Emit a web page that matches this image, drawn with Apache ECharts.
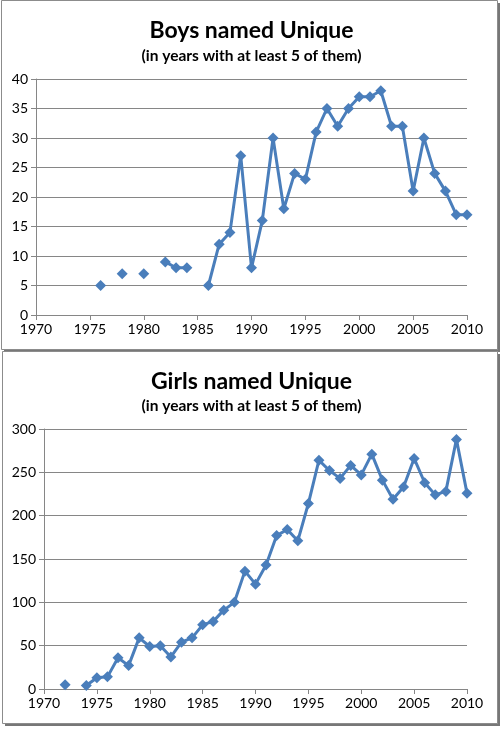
<!DOCTYPE html>
<html>
<head>
<meta charset="utf-8">
<script src="https://cdn.jsdelivr.net/npm/echarts@6/dist/echarts.min.js"></script>
<style>
  html, body { margin: 0; padding: 0; background: #fff; }
  #chart { width: 503px; height: 731px; }
</style>
</head>
<body>
<div id="chart"></div>
<script>
// boys: years with at least 5 of them (null = fewer than 5)
const boyYears = [1976, 1977, 1978, 1979, 1980, 1981, 1982, 1983, 1984, 1985, 1986, 1987, 1988, 1989, 1990,
  1991, 1992, 1993, 1994, 1995, 1996, 1997, 1998, 1999, 2000, 2001, 2002, 2003, 2004, 2005, 2006, 2007, 2008, 2009, 2010]
const boyCounts = [5, null, 7, null, 7, null, 9, 8, 8, null, 5, 12, 14, 27, 8,
  16, 30, 18, 24, 23, 31, 35, 32, 35, 37, 37, 38, 32, 32, 21, 30, 24, 21, 17, 17]

const girlYears = [1972, 1973, 1974, 1975, 1976, 1977, 1978, 1979, 1980, 1981, 1982, 1983, 1984, 1985, 1986,
  1987, 1988, 1989, 1990, 1991, 1992, 1993, 1994, 1995, 1996, 1997, 1998, 1999, 2000, 2001, 2002, 2003, 2004,
  2005, 2006, 2007, 2008, 2009, 2010]
const girlCounts = [5, null, 4, 13, 14, 36, 27, 59, 49, 50, 37, 54, 59, 74, 78,
  91, 100, 136, 121, 143, 177, 184, 171, 214, 264, 252, 243, 258, 247, 271, 241, 219, 233,
  266, 238, 224, 228, 288, 226]

const titles = ['Boys named Unique', 'Girls named Unique']
const subtitle = '(in years with at least 5 of them)'

const FONT = 'Lato, "Open Sans", sans-serif'
const lineColor = '#4a7ebb'
const axisGray = '#868686'

const chart = echarts.init(document.getElementById('chart'))

const pairs = (xs, ys) => xs.map((x, i) => [x, ys[i]])

const xAxisBase = (gridIndex) => ({
  type: 'value',
  gridIndex,
  min: 1970,
  max: 2010,
  interval: 5,
  axisLine: { show: true, lineStyle: { color: axisGray, width: 1 } },
  axisTick: { show: true, length: 5, lineStyle: { color: axisGray } },
  axisLabel: { color: '#000', fontSize: 14, fontFamily: FONT, margin: 7, formatter: (v) => String(v) },
  splitLine: { show: false }
})

const yAxisBase = (gridIndex, max, interval) => ({
  type: 'value',
  gridIndex,
  min: 0,
  max,
  interval,
  axisLine: { show: true, lineStyle: { color: axisGray, width: 1 } },
  axisTick: { show: true, length: 5, lineStyle: { color: axisGray } },
  axisLabel: { color: '#000', fontSize: 14, fontFamily: FONT, margin: 8 },
  splitLine: { show: true, lineStyle: { color: axisGray, width: 1 } }
})

const seriesBase = (idx, data) => ({
  type: 'line',
  xAxisIndex: idx,
  yAxisIndex: idx,
  data,
  connectNulls: false,
  symbol: 'diamond',
  symbolSize: 11,
  showAllSymbol: true,
  itemStyle: { color: lineColor },
  lineStyle: { color: lineColor, width: 3 },
  silent: true
})

// chart frames (Excel-style boxes with a drop shadow)
const frames = [
  { x: 1, y: 0, w: 496, h: 349 },
  { x: 2, y: 351, w: 495, h: 372 }
]
const graphic = []
frames.forEach((f) => {
  graphic.push({ type: 'rect', shape: { x: f.x + 3, y: f.y + 3, width: f.w, height: f.h }, style: { fill: '#777' }, z: -10 })
  graphic.push({ type: 'rect', shape: { x: f.x + 0.5, y: f.y + 0.5, width: f.w, height: f.h }, style: { fill: '#fff', stroke: '#8c8c8c', lineWidth: 1 }, z: -9 })
})

chart.setOption({
  animation: false,
  backgroundColor: '#fff',
  graphic,
  title: [
    { text: titles[0], left: 'center', top: 14, textStyle: { fontFamily: FONT, fontWeight: 'bold', fontSize: 23, color: '#000' } },
    { text: subtitle, left: 'center', top: 43, textStyle: { fontFamily: FONT, fontWeight: 'bold', fontSize: 15.5, color: '#000' } },
    { text: titles[1], left: 'center', top: 365, textStyle: { fontFamily: FONT, fontWeight: 'bold', fontSize: 23, color: '#000' } },
    { text: subtitle, left: 'center', top: 393, textStyle: { fontFamily: FONT, fontWeight: 'bold', fontSize: 15.5, color: '#000' } }
  ],
  grid: [
    { left: 36, top: 79, width: 431, height: 236 },
    { left: 44, top: 429, width: 423, height: 260 }
  ],
  xAxis: [xAxisBase(0), xAxisBase(1)],
  yAxis: [yAxisBase(0, 40, 5), yAxisBase(1, 300, 50)],
  series: [
    seriesBase(0, pairs(boyYears, boyCounts)),
    seriesBase(1, pairs(girlYears, girlCounts))
  ]
})
</script>
</body>
</html>
